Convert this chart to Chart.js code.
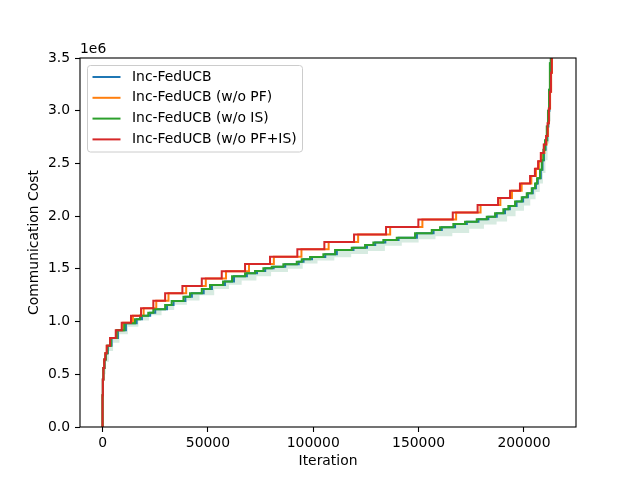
<!DOCTYPE html>
<html>
<head>
<meta charset="utf-8">
<script src="https://cdn.jsdelivr.net/npm/chart.js@4.4.1/dist/chart.umd.min.js"></script>
<style>
  body { margin: 0; background: #fff; }
</style>
</head>
<body>
<canvas id="costChart" width="640" height="480"></canvas>
<script>
// series names (legend order) and colours
const seriesNames = ['Inc-FedUCB', 'Inc-FedUCB (w/o PF)', 'Inc-FedUCB (w/o IS)', 'Inc-FedUCB (w/o PF+IS)'];
const seriesColors = ['#1f77b4', '#ff7f0e', '#2ca02c', '#d62728'];

// step points: iteration where the cost jumps, and the new cost (x1e6)
const redIter = [0, 0, 150, 400, 800, 1300, 2000, 3560, 6270, 9100, 13500, 18270, 24100, 29700, 37900, 47100, 56570, 67630, 79490, 92450, 105270, 119360, 134550, 149880, 166210, 178000, 187700, 193400, 198100, 202900, 205200, 206700, 208000, 209400, 210500, 211200, 211800, 212300, 212800, 213200, 213800];
const redCost = [0, 0.30, 0.45, 0.56, 0.64, 0.70, 0.77, 0.845, 0.918, 0.988, 1.056, 1.126, 1.197, 1.268, 1.338, 1.408, 1.477, 1.547, 1.616, 1.686, 1.755, 1.826, 1.897, 1.967, 2.035, 2.106, 2.172, 2.24, 2.31, 2.38, 2.45, 2.52, 2.60, 2.68, 2.76, 2.88, 3.02, 3.18, 3.36, 3.60, 4.50];

// w/o PF: same levels as w/o PF+IS, jumps a little later
const orangeIter = [0, 0, 150, 400, 800, 1300, 2000, 3800, 6700, 9800, 14400, 19500, 25500, 31300, 39700, 49000, 58600, 69500, 81300, 94400, 107300, 121300, 136500, 151800, 167800, 179400, 188800, 194300, 198900, 203500, 205700, 207100, 208400, 209700, 210700, 211400, 211900, 212400, 212900, 213300, 213900];

const greenIter = [0, 0, 150, 400, 900, 1500, 2300, 3900, 6700, 10350, 15400, 17800, 21700, 24100, 29700, 32800, 38400, 41500, 47100, 51000, 57190, 61460, 67630, 72370, 76330, 80300, 85810, 92170, 94540, 98480, 104800, 110350, 118270, 124580, 128520, 133270, 139630, 148310, 156240, 160180, 166490, 172040, 177590, 182340, 186280, 190220, 192590, 195770, 198950, 201320, 203700, 205260, 206220, 207640, 208450, 209200, 210000, 210820, 211400, 211900, 212300, 212700, 213600];
const greenCost = [0, 0.30, 0.45, 0.56, 0.64, 0.70, 0.77, 0.845, 0.918, 0.984, 1.022, 1.056, 1.084, 1.117, 1.157, 1.195, 1.236, 1.268, 1.309, 1.347, 1.379, 1.43, 1.458, 1.48, 1.506, 1.521, 1.544, 1.568, 1.591, 1.613, 1.638, 1.679, 1.70, 1.727, 1.749, 1.774, 1.796, 1.838, 1.869, 1.895, 1.926, 1.948, 1.97, 1.995, 2.028, 2.065, 2.097, 2.138, 2.18, 2.217, 2.265, 2.31, 2.36, 2.44, 2.53, 2.63, 2.72, 2.85, 3.0, 3.2, 3.45, 3.8, 4.5];

// full model: mostly hidden under w/o IS, same levels, slightly later jumps
const blueIter = [0, 0, 150, 400, 950, 1600, 2500, 4300, 7300, 11100, 16200, 18700, 22600, 25000, 30600, 33700, 39300, 42400, 48000, 51900, 58100, 62400, 68500, 73300, 77200, 81200, 86700, 93100, 95400, 99400, 105700, 111200, 119100, 125500, 129400, 134200, 140500, 149200, 157100, 161000, 167300, 172900, 178400, 183100, 187100, 191000, 193300, 196500, 199600, 201900, 204200, 205700, 206600, 208000, 208800, 209500, 210300, 211100, 211600, 212100, 212500, 212900, 213800];

// lower edge of the shaded band
const lowIter = [0, 0, 500, 1500, 3000, 5000, 8000, 12000, 17000, 22000, 28000, 34000, 40000, 46000, 53000, 60000, 66000, 73000, 80000, 88000, 95000, 102000, 110000, 118000, 126000, 134000, 142000, 150000, 158000, 166000, 174000, 181000, 187000, 192000, 196000, 200000, 203000, 205500, 207500, 209000, 210200, 211200, 212000, 212700, 213300, 214000];
const lowCost = [0, 0.28, 0.50, 0.62, 0.72, 0.80, 0.88, 0.95, 1.01, 1.06, 1.11, 1.16, 1.20, 1.25, 1.31, 1.35, 1.39, 1.43, 1.47, 1.50, 1.55, 1.58, 1.61, 1.64, 1.67, 1.72, 1.75, 1.78, 1.81, 1.84, 1.88, 1.92, 1.95, 2.00, 2.05, 2.10, 2.16, 2.23, 2.31, 2.41, 2.53, 2.69, 2.90, 3.20, 3.60, 4.50];

const xTicks = [0, 50000, 100000, 150000, 200000];
const yTicks = [0, 0.5, 1.0, 1.5, 2.0, 2.5, 3.0, 3.5];

Chart.defaults.font.family = "'DejaVu Sans', sans-serif";
Chart.defaults.font.size = 13.9;
Chart.defaults.color = '#000';

const pts = (xs, ys) => xs.map((x, i) => ({ x: x, y: ys[i] }));

function stepLine(i, xs, ys, extra) {
  return Object.assign({
    label: seriesNames[i],
    data: pts(xs, ys),
    borderColor: seriesColors[i],
    backgroundColor: seriesColors[i],
    borderWidth: 2,
    pointRadius: 0,
    stepped: true,
    fill: false
  }, extra || {});
}

// first dataset is drawn on top in Chart.js
const datasets = [
  stepLine(3, redIter, redCost),
  stepLine(2, greenIter, greenCost, { fill: { target: 4, above: 'rgba(44,160,44,0.12)', below: 'rgba(44,160,44,0.12)' } }),
  stepLine(1, orangeIter, redCost),
  stepLine(0, blueIter, greenCost, { fill: { target: 4, above: 'rgba(31,119,180,0.07)', below: 'rgba(31,119,180,0.07)' } }),
  { label: 'band', data: pts(lowIter, lowCost), borderWidth: 0, borderColor: 'rgba(0,0,0,0)', pointRadius: 0, stepped: true, fill: false }
];

const frame = {
  id: 'frame',
  afterDatasetsDraw(chart) {
    const c = chart.ctx, a = chart.chartArea;
    c.save();
    c.strokeStyle = '#000';
    c.lineWidth = 1.1;
    c.strokeRect(a.left, a.top, a.right - a.left, a.bottom - a.top);
    c.restore();
  },
  afterDraw(chart) {
    const c = chart.ctx, a = chart.chartArea;
    c.save();
    c.font = "13.9px 'DejaVu Sans'";
    c.fillStyle = '#000';
    c.textBaseline = 'middle';
    c.textAlign = 'left';
    c.fillText('1e6', a.left, a.top - 9);

    // legend box, upper left inside the axes
    const bx = a.left + 7.5, by = a.top + 7.5, bw = 215, bh = 86.5, r = 3;
    c.beginPath();
    c.roundRect(bx, by, bw, bh, r);
    c.fillStyle = 'rgba(255,255,255,0.8)';
    c.fill();
    c.strokeStyle = '#cccccc';
    c.lineWidth = 1;
    c.stroke();
    seriesNames.forEach((name, i) => {
      const y = by + 11.5 + i * 20.8;
      c.beginPath();
      c.moveTo(bx + 5, y);
      c.lineTo(bx + 33, y);
      c.strokeStyle = seriesColors[i];
      c.lineWidth = 2;
      c.stroke();
      c.fillStyle = '#000';
      c.fillText(name, bx + 44.5, y);
    });
    c.restore();
  }
};

new Chart(document.getElementById('costChart').getContext('2d'), {
  type: 'line',
  data: { datasets: datasets },
  options: {
    responsive: false,
    animation: false,
    devicePixelRatio: 1,
    layout: { padding: { top: 58, right: 64, left: 0, bottom: 0 } },
    plugins: {
      legend: { display: false },
      tooltip: { enabled: false }
    },
    scales: {
      x: {
        type: 'linear',
        min: -10700,
        max: 224700,
        afterBuildTicks: s => { s.ticks = xTicks.map(v => ({ value: v })); },
        afterFit: s => { s.height = 53; },
        ticks: { callback: v => String(v), maxRotation: 0, padding: 3 },
        grid: { drawOnChartArea: false, tickLength: 5, tickColor: '#000', tickWidth: 1.1 },
        border: { display: false },
        title: { display: true, text: 'Iteration', padding: { top: 0, bottom: 10 } }
      },
      y: {
        type: 'linear',
        min: 0,
        max: 3.5,
        afterBuildTicks: s => { s.ticks = yTicks.map(v => ({ value: v })); },
        afterFit: s => { s.width = 80; },
        ticks: { callback: v => v.toFixed(1), padding: 5 },
        grid: { drawOnChartArea: false, tickLength: 5, tickColor: '#000', tickWidth: 1.1 },
        border: { display: false },
        title: { display: true, text: 'Communication Cost', padding: { top: 26, bottom: 0 } }
      }
    }
  },
  plugins: [frame]
});
</script>
</body>
</html>
